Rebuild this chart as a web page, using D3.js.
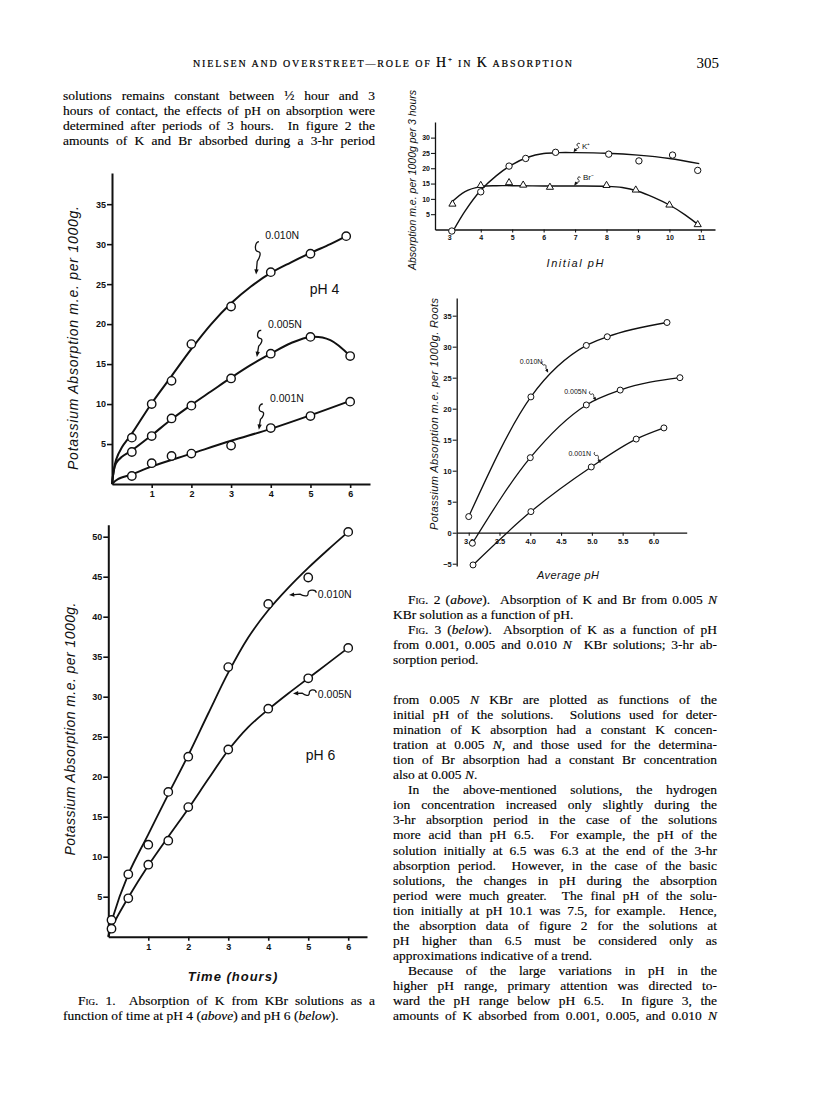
<!DOCTYPE html>
<head>
    <meta charset="utf-8">
    <title>Nielsen and Overstreet - Role of H+ in K absorption, p. 305</title>
    <style>
        body { margin: 0; background: #fff; }
        svg { display: block; }
        .body-text { font-family: "Liberation Serif", serif; font-size: 13.5px; fill: #000; stroke: #000; stroke-width: 0.15px; }
        .axis text { font-family: "Liberation Sans", sans-serif; font-weight: bold; fill: #111; }
        .axis path, .axis line { stroke: #111; }
        .lbl { font-family: "Liberation Sans", sans-serif; font-style: italic; fill: #111; }
        .note { font-family: "Liberation Sans", sans-serif; fill: #111; }
    </style>
    <script src="https://cdn.jsdelivr.net/npm/d3@7"></script>
</head>
<body>
<script>
// ---------- Fig. 1 (pH 4): K absorbed, m.e. per 1000 g, against time in hours
var ph4Hours = [0.5, 1, 1.5, 2, 3, 4, 5, 6];
var ph4Hours010 = [0.5, 1, 1.5, 2, 3, 4, 5, 5.9];
var ph4K010 = [5.8, 10.0, 12.9, 17.5, 22.2, 26.5, 28.8, 31.0];
var ph4K005 = [4.0, 6.0, 8.2, 9.8, 13.2, 16.3, 18.4, 16.0];
var ph4K001 = [1.0, 2.6, 3.5, 3.8, 4.8, 7.0, 8.5, 10.3];
// smoothed curves as drawn on the figure
var ph4Fit010Hours = [0, 0.1, 0.25, 0.5, 1, 1.5, 2, 2.5, 3, 3.5, 4, 4.5, 5, 5.5, 5.9];
var ph4Fit010 = [0, 3.0, 4.6, 6.3, 10.1, 13.5, 16.9, 20.0, 22.6, 24.7, 26.4, 27.7, 28.9, 30.0, 31.0];
var ph4Fit005Hours = [0, 0.1, 0.25, 0.5, 1, 1.5, 2, 2.5, 3, 3.5, 4, 4.5, 5, 5.5, 6];
var ph4Fit005 = [0, 2.6, 3.4, 4.2, 6.1, 8.1, 9.9, 11.6, 13.3, 14.9, 16.3, 17.6, 18.4, 18.0, 16.0];
var ph4Fit001Hours = [0, 0.15, 0.5, 1, 2, 3, 4, 5, 6];
var ph4Fit001 = [0, 0.6, 1.2, 2.2, 3.8, 5.4, 6.9, 8.6, 10.4];

// ---------- Fig. 1 (pH 6)
var ph6Hours010 = [0.08, 0.5, 1, 1.5, 2, 3, 4, 5, 6];
var ph6K010 = [2.1, 7.8, 11.5, 18.1, 22.5, 33.7, 41.6, 44.9, 50.6];
var ph6Hours005 = [0.08, 0.5, 1, 1.5, 2, 3, 4, 5, 6];
var ph6K005 = [1.0, 4.8, 9.0, 12.0, 16.2, 23.4, 28.5, 32.3, 36.1];
var ph6FitHours = [0, 0.1, 0.5, 1, 1.5, 2, 2.5, 3, 3.5, 4, 4.5, 5, 5.5, 6];
var ph6Fit010 = [0, 2.2, 7.8, 12.8, 17.8, 22.7, 27.9, 33.0, 37.4, 40.8, 43.6, 46.1, 48.4, 50.6];
var ph6Fit005 = [0, 1.3, 4.9, 8.9, 12.5, 16.0, 19.7, 23.3, 26.2, 28.4, 30.4, 32.3, 34.2, 36.1];

var timeTicks = [1, 2, 3, 4, 5, 6];
var ph4YTicks = [5, 10, 15, 20, 25, 30, 35];
var ph6YTicks = [5, 10, 15, 20, 25, 30, 35, 40, 45, 50];

// ---------- Fig. 2: absorption from 0.005 N KBr against initial pH
var kInitialPh = [3.08, 4.0, 4.9, 5.43, 6.38, 8.07, 9.03, 10.1, 10.9];
var kAbs = [-0.5, 12.3, 20.7, 23.2, 25.2, 24.6, 22.4, 24.3, 19.3];
var brInitialPh = [3.1, 4.0, 4.9, 5.35, 6.2, 8.0, 8.93, 10.0, 10.9];
var brAbs = [8.3, 14.4, 15.3, 14.5, 13.8, 14.4, 12.9, 8.0, 1.6];
var kFitPh = [3.12, 3.5, 4, 4.5, 5, 5.5, 6, 6.5, 7, 8, 9, 10, 10.95];
var kFit = [-0.5, 6.0, 12.8, 17.6, 21.2, 23.6, 24.8, 25.1, 25.1, 24.9, 24.3, 23.2, 21.5];
var brFitPh = [3.05, 3.5, 4, 4.5, 5, 6, 7, 8, 8.5, 9, 9.5, 10, 10.5, 10.95];
var brFit = [8.7, 12.4, 14.0, 14.3, 14.3, 14.2, 14.2, 14.1, 13.7, 12.5, 10.5, 8.0, 4.8, 1.3];
var fig2XTicks = [3, 4, 5, 6, 7, 8, 9, 10, 11];
var fig2YTicks = [5, 10, 15, 20, 25, 30];

// ---------- Fig. 3: K absorbed in 3 hr against average pH
var avgPh010 = [3.0, 4.01, 4.91, 5.25, 6.22];
var k010 = [2.6, 21.9, 30.2, 31.6, 33.9];
var avgPh005 = [3.06, 4.0, 4.91, 5.46, 6.43];
var k005 = [-1.7, 12.1, 20.6, 23.0, 25.0];
var avgPh001 = [3.07, 4.01, 4.99, 5.72, 6.17];
var k001 = [-5.2, 3.4, 10.6, 15.1, 16.9];
var fig3XTicks = [3, 3.5, 4, 4.5, 5, 5.5, 6];
var fig3XLabels = ["3.0", "3.5", "4.0", "4.5", "5.0", "5.5", "6.0"];
var fig3YTicks = [-5, 0, 5, 10, 15, 20, 25, 30, 35];

// curve labels: text anchor (tx,ty), squiggle start (sx,sy), arrow tip (ax,ay), data units
var ph4Notes = [
    { text: "0.010N", tx: 3.86, ty: 30.6, sx: 3.7, sy: 30.3, ax: 3.63, ay: 26.2 },
    { text: "0.005N", tx: 3.93, ty: 19.5, sx: 3.76, sy: 19.2, ax: 3.65, ay: 15.9 },
    { text: "0.001N", tx: 3.98, ty: 10.3, sx: 3.8, sy: 10.0, ax: 3.7, ay: 6.8 }
];
var ph6Notes = [
    { text: "0.010N", tx: 5.24, ty: 42.4, sx: 5.2, sy: 43.0, ax: 4.52, ay: 42.7 },
    { text: "0.005N", tx: 5.24, ty: 29.9, sx: 5.2, sy: 30.5, ax: 4.62, ay: 30.4 }
];
var fig2Notes = [
    { text: "K\u207A", tx: 7.22, ty: 26.2, sx: 7.15, sy: 28.0, ax: 6.95, ay: 25.2 },
    { text: "Br\u207B", tx: 7.25, ty: 16.0, sx: 7.17, sy: 17.0, ax: 6.97, ay: 14.3 }
];
var fig3Notes = [
    { text: "0.010N", tx: 3.83, ty: 27.2, sx: 4.2, sy: 27.6, ax: 4.29, ay: 25.8 },
    { text: "0.005N", tx: 4.55, ty: 22.4, sx: 4.97, sy: 22.8, ax: 5.07, ay: 21.3 },
    { text: "0.001N", tx: 4.62, ty: 12.4, sx: 5.05, sy: 13.0, ax: 5.14, ay: 11.2 }
];

var ink = "#111";

var svg = d3.select("body").append("svg")
    .attr("width", 816)
    .attr("height", 1114);
svg.append("rect").attr("width", 816).attr("height", 1114).attr("fill", "#fff");

function zip(xs, ys) {
    return xs.map(function (v, i) { return [v, ys[i]]; });
}

function drawAxes(g, x, y, o) {
    var xa = g.append("g").attr("class", "axis")
        .attr("transform", "translate(0," + y(o.xAt) + ")")
        .call(d3.axisBottom(x).tickValues(o.xTicks).tickSize(o.tick).tickPadding(o.pad)
            .tickSizeOuter(0).tickFormat(function (d, i) { return o.xLabels ? o.xLabels[i] : d; }));
    var ya = g.append("g").attr("class", "axis")
        .attr("transform", "translate(" + x(o.yAt) + ",0)")
        .call(d3.axisLeft(y).tickValues(o.yTicks).tickSize(o.tick + 1).tickPadding(1)
            .tickSizeOuter(0).tickFormat(d3.format("d")));
    [xa, ya].forEach(function (a) {
        a.select(".domain").attr("stroke-width", o.sw);
        a.selectAll(".tick line").attr("stroke-width", o.sw * 0.8);
        a.selectAll("text").style("font-size", o.fs + "px");
    });
}

function drawCurve(g, pts, x, y, sw, curve) {
    g.append("path")
        .datum(pts)
        .attr("fill", "none")
        .attr("stroke", ink)
        .attr("stroke-width", sw)
        .attr("d", d3.line().x(function (d) { return x(d[0]); }).y(function (d) { return y(d[1]); })
            .curve(curve || d3.curveCatmullRom.alpha(0.5)));
}

function drawCircles(g, pts, x, y, r, sw) {
    g.selectAll(null).data(pts).enter().append("circle")
        .attr("cx", function (d) { return x(d[0]); })
        .attr("cy", function (d) { return y(d[1]); })
        .attr("r", r)
        .attr("fill", "#fff")
        .attr("stroke", ink)
        .attr("stroke-width", sw);
}

function drawTriangles(g, pts, x, y, size, sw) {
    g.selectAll(null).data(pts).enter().append("path")
        .attr("transform", function (d) { return "translate(" + x(d[0]) + "," + y(d[1]) + ")"; })
        .attr("d", d3.symbol(d3.symbolTriangle, size))
        .attr("fill", "#fff")
        .attr("stroke", ink)
        .attr("stroke-width", sw);
}

function squiggle(g, x0, y0, x1, y1, amp, sw) {
    var dx = x1 - x0, dy = y1 - y0, L = Math.hypot(dx, dy);
    var ux = dx / L, uy = dy / L, nx = -uy, ny = ux;
    var s1 = [x0 + dx * 0.3, y0 + dy * 0.3], s2 = [x0 + dx * 0.6, y0 + dy * 0.6];
    var p = d3.path();
    p.moveTo(x0, y0);
    p.bezierCurveTo(x0 + nx * amp, y0 + ny * amp, s1[0] + nx * amp, s1[1] + ny * amp, s1[0], s1[1]);
    p.bezierCurveTo(s1[0] - nx * amp, s1[1] - ny * amp,
        s2[0] - nx * amp * 0.5 - ux * L * 0.1, s2[1] - ny * amp * 0.5 - uy * L * 0.1, s2[0], s2[1]);
    p.lineTo(x1 - ux * 3, y1 - uy * 3);
    g.append("path").attr("d", p.toString()).attr("fill", "none")
        .attr("stroke", ink).attr("stroke-width", sw);
    var ah = 2 + amp * 0.8, aw = 1 + amp * 0.3;
    g.append("path")
        .attr("d", "M" + x1 + "," + y1 +
            "L" + (x1 - ux * ah + nx * aw) + "," + (y1 - uy * ah + ny * aw) +
            "L" + (x1 - ux * ah - nx * aw) + "," + (y1 - uy * ah - ny * aw) + "Z")
        .attr("fill", ink);
}

function drawNotes(g, notes, x, y, fs, amp, sw) {
    notes.forEach(function (n) {
        g.append("text").attr("class", "note")
            .attr("x", x(n.tx)).attr("y", y(n.ty))
            .style("font-size", fs + "px")
            .text(n.text);
        squiggle(g, x(n.sx), y(n.sy), x(n.ax), y(n.ay), amp, sw);
    });
}

function yLabel(g, cx, cy, fs, len, str) {
    g.append("text").attr("class", "lbl")
        .attr("transform", "translate(" + cx + "," + cy + ") rotate(-90)")
        .attr("text-anchor", "middle")
        .attr("textLength", len)
        .attr("lengthAdjust", "spacing")
        .style("font-size", fs + "px")
        .text(str);
}

// ================= Fig. 1, pH 4
var f1a = svg.append("g").attr("id", "fig1-ph4");
var xA = d3.scaleLinear().domain([0, 6.5]).range([112, 370]);
var yA = d3.scaleLinear().domain([0, 38.9]).range([484, 173]);
drawAxes(f1a, xA, yA, { xAt: 0, yAt: 0, xTicks: timeTicks, yTicks: ph4YTicks, tick: 4, pad: 3, sw: 2, fs: 9 });
drawCurve(f1a, zip(ph4Fit010Hours, ph4Fit010), xA, yA, 2);
drawCurve(f1a, zip(ph4Fit005Hours, ph4Fit005), xA, yA, 2);
drawCurve(f1a, zip(ph4Fit001Hours, ph4Fit001), xA, yA, 2);
drawCircles(f1a, zip(ph4Hours010, ph4K010), xA, yA, 4.2, 1.4);
drawCircles(f1a, zip(ph4Hours, ph4K005), xA, yA, 4.2, 1.4);
drawCircles(f1a, zip(ph4Hours, ph4K001), xA, yA, 4.2, 1.4);
drawNotes(f1a, ph4Notes, xA, yA, 10.5, 4, 1.3);
f1a.append("text").attr("class", "note").attr("x", xA(4.98)).attr("y", yA(23.8))
    .style("font-size", "14px").text("pH 4");
yLabel(f1a, 78, 338, 14, 264, "Potassium  Absorption  m.e.  per  1000g.");

// ================= Fig. 1, pH 6
var f1b = svg.append("g").attr("id", "fig1-ph6");
var xB = d3.scaleLinear().domain([0, 6.47]).range([108.3, 367]);
var yB = d3.scaleLinear().domain([0, 51.5]).range([936.7, 524.7]);
drawAxes(f1b, xB, yB, { xAt: 0, yAt: 0, xTicks: timeTicks, yTicks: ph6YTicks, tick: 4, pad: 3, sw: 2, fs: 9 });
drawCurve(f1b, zip(ph6FitHours, ph6Fit010), xB, yB, 1.8);
drawCurve(f1b, zip(ph6FitHours, ph6Fit005), xB, yB, 1.8);
drawCircles(f1b, zip(ph6Hours010, ph6K010), xB, yB, 4.2, 1.4);
drawCircles(f1b, zip(ph6Hours005, ph6K005), xB, yB, 4.2, 1.4);
drawNotes(f1b, ph6Notes, xB, yB, 10.5, 4, 1.3);
f1b.append("text").attr("class", "note").attr("x", xB(4.94)).attr("y", yB(22.1))
    .style("font-size", "14px").text("pH 6");
yLabel(f1b, 75, 729, 14, 253, "Potassium  Absorption  m.e.  per  1000g.");
f1b.append("text").attr("class", "lbl")
    .attr("x", 233).attr("y", 981)
    .attr("text-anchor", "middle")
    .style("font-size", "13px").style("font-weight", "bold").style("letter-spacing", "1px")
    .text("Time  (hours)");

// ================= Fig. 2
var f2 = svg.append("g").attr("id", "fig2");
var x2 = d3.scaleLinear().domain([2.545, 11.45]).range([435, 715]);
var y2 = d3.scaleLinear().domain([0, 35.1]).range([229.5, 122]);
drawAxes(f2, x2, y2, { xAt: 0, yAt: 2.545, xTicks: fig2XTicks, yTicks: fig2YTicks, tick: 3, pad: 3, sw: 1.3, fs: 7 });
drawCurve(f2, zip(kFitPh, kFit), x2, y2, 1.4);
drawCurve(f2, zip(brFitPh, brFit), x2, y2, 1.4);
drawCircles(f2, zip(kInitialPh, kAbs), x2, y2, 3.2, 1);
drawTriangles(f2, zip(brInitialPh, brAbs), x2, y2, 22, 1);
drawNotes(f2, fig2Notes, x2, y2, 8, 2.5, 1);
yLabel(f2, 415.5, 180, 10.5, 180, "Absorption  m.e.  per  1000g  per  3  hours");
f2.append("text").attr("class", "lbl")
    .attr("x", 575).attr("y", 267)
    .attr("text-anchor", "middle")
    .attr("textLength", 57).attr("lengthAdjust", "spacing")
    .style("font-size", "11px")
    .text("Initial  pH");

// ================= Fig. 3
var f3 = svg.append("g").attr("id", "fig3");
var x3 = d3.scaleLinear().domain([2.805, 6.54]).range([456.7, 686.7]);
var y3 = d3.scaleLinear().domain([-5.37, 37.85]).range([566, 298]);
drawAxes(f3, x3, y3, { xAt: 0, yAt: 2.805, xTicks: fig3XTicks, xLabels: fig3XLabels, yTicks: fig3YTicks, tick: 3, pad: 3, sw: 1.3, fs: 7.5 });
drawCurve(f3, zip(avgPh010, k010), x3, y3, 1.3, d3.curveMonotoneX);
drawCurve(f3, zip(avgPh005, k005), x3, y3, 1.3, d3.curveMonotoneX);
drawCurve(f3, zip(avgPh001, k001), x3, y3, 1.3, d3.curveMonotoneX);
drawCircles(f3, zip(avgPh010, k010), x3, y3, 3, 1);
drawCircles(f3, zip(avgPh005, k005), x3, y3, 3, 1);
drawCircles(f3, zip(avgPh001, k001), x3, y3, 3, 1);
drawNotes(f3, fig3Notes, x3, y3, 7, 2, 0.9);
yLabel(f3, 437.5, 414, 11, 232, "Potassium  Absorption  m.e.  per  1000g.  Roots");
f3.append("text").attr("class", "lbl")
    .attr("x", 568).attr("y", 579)
    .attr("text-anchor", "middle")
    .attr("textLength", 62).attr("lengthAdjust", "spacing")
    .style("font-size", "11px")
    .text("Average  pH");

// ================= running head and text
var head = svg.append("text")
    .attr("x", 193).attr("y", 67)
    .attr("textLength", 379).attr("lengthAdjust", "spacing")
    .style("font-family", "'Liberation Serif', serif").style("fill", "#000")
    .style("stroke", "#000").style("stroke-width", "0.2px");
head.append("tspan").style("font-size", "10px").text("NIELSEN AND OVERSTREET\u2014ROLE OF ");
head.append("tspan").style("font-size", "14px").text("H");
head.append("tspan").style("font-size", "7px").attr("dy", -5).text("+");
head.append("tspan").style("font-size", "10px").attr("dy", 5).text(" IN ");
head.append("tspan").style("font-size", "14px").text("K");
head.append("tspan").style("font-size", "10px").text(" ABSORPTION");
svg.append("text").attr("x", 719).attr("y", 68).attr("text-anchor", "end")
    .style("font-family", "'Liberation Serif', serif").style("font-size", "15px").style("fill", "#000")
    .text("305");

var text = svg.append("g").attr("id", "text");

// justified line: stretch word gaps to fill width
function addLine(x, y, str, width) {
    var t = text.append("text").attr("class", "body-text").attr("x", x).attr("y", y)
        .attr("xml:space", "preserve");
    str.split(/(\*[^*]*\*|\{[^}]*\})/).filter(function (s) { return s; }).forEach(function (s) {
        var ts = t.append("tspan");
        if (s[0] === "*") ts.style("font-style", "italic").text(s.slice(1, -1));
        else if (s[0] === "{") ts.style("font-variant", "small-caps").text(s.slice(1, -1));
        else ts.text(s);
    });
    if (width) {
        var natural = t.node().getComputedTextLength();
        var gaps = (str.match(/ /g) || []).length;
        if (gaps) t.style("word-spacing", ((width - natural) / gaps) + "px");
    }
}

function addBlock(x, y0, lh, width, lines) {
    lines.forEach(function (l, i) {
        var ind = l.indent || 0;
        addLine(x + ind, y0 + i * lh, l.t, l.last ? 0 : width - ind);
    });
}

addBlock(63, 100, 15, 312, [
    { t: "solutions remains constant between \u00BD hour and 3" },
    { t: "hours of contact, the effects of pH on absorption were" },
    { t: "determined after periods of 3 hours.  In figure 2 the" },
    { t: "amounts of K and Br absorbed during a 3-hr period" }
]);

addBlock(63, 1004.5, 15, 312, [
    { t: "F{ig}. 1.  Absorption of K from KBr solutions as a", indent: 15 },
    { t: "function of time at pH 4 (*above*) and pH 6 (*below*).", last: true }
]);

addBlock(393, 604, 15, 324, [
    { t: "F{ig}. 2 (*above*).  Absorption of K and Br from 0.005 *N*", indent: 15 },
    { t: "KBr solution as a function of pH.", last: true },
    { t: "F{ig}. 3 (*below*).  Absorption of K as a function of pH", indent: 15 },
    { t: "from 0.001, 0.005 and 0.010 *N*  KBr solutions; 3-hr ab-" },
    { t: "sorption period.", last: true }
]);

addBlock(393, 704, 15.05, 324, [
    { t: "from 0.005 *N* KBr are plotted as functions of the" },
    { t: "initial pH of the solutions.  Solutions used for deter-" },
    { t: "mination of K absorption had a constant K concen-" },
    { t: "tration at 0.005 *N*, and those used for the determina-" },
    { t: "tion of Br absorption had a constant Br concentration" },
    { t: "also at 0.005 *N*.", last: true },
    { t: "In the above-mentioned solutions, the hydrogen", indent: 15 },
    { t: "ion concentration increased only slightly during the" },
    { t: "3-hr absorption period in the case of the solutions" },
    { t: "more acid than pH 6.5.  For example, the pH of the" },
    { t: "solution initially at 6.5 was 6.3 at the end of the 3-hr" },
    { t: "absorption period.  However, in the case of the basic" },
    { t: "solutions, the changes in pH during the absorption" },
    { t: "period were much greater.  The final pH of the solu-" },
    { t: "tion initially at pH 10.1 was 7.5, for example.  Hence," },
    { t: "the absorption data of figure 2 for the solutions at" },
    { t: "pH higher than 6.5 must be considered only as" },
    { t: "approximations indicative of a trend.", last: true },
    { t: "Because of the large variations in pH in the", indent: 15 },
    { t: "higher pH range, primary attention was directed to-" },
    { t: "ward the pH range below pH 6.5.  In figure 3, the" },
    { t: "amounts of K absorbed from 0.001, 0.005, and 0.010 *N*" }
]);
</script>
</body>
